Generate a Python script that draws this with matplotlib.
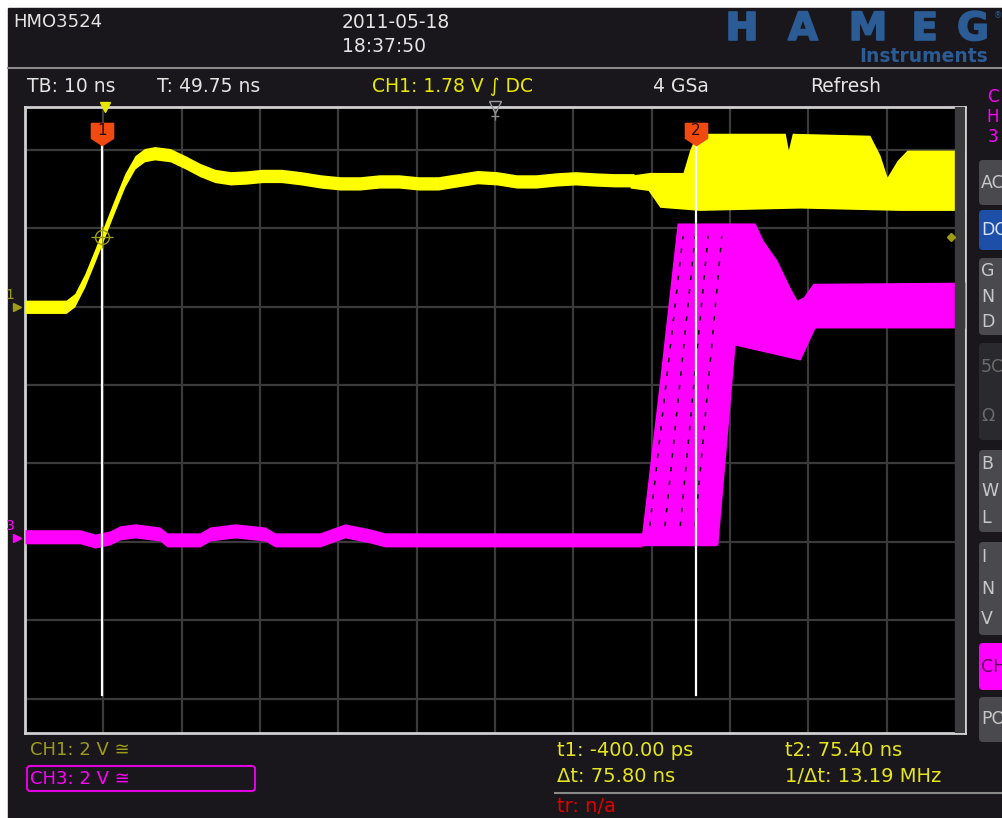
import numpy as np
import matplotlib.pyplot as plt
import matplotlib.patheffects as pe
from matplotlib.patches import Rectangle, FancyBboxPatch
from matplotlib.transforms import blended_transform_factory

plt.rcParams['font.family'] = ['DejaVu Sans']

W, H = 1003, 818

# time axis in ns: 10 ns/div, 12 div, centre at 49.75 ns
t_left, t_right = -10.25, 109.75
# vertical axis in divisions (grid lines on integers)
div_bottom, div_top = -4.44, 3.55
v_per_div = 2.0
ch1_off = 1.0
ch3_off = -1.95
trig_level = 1.78

# CH1 single trace (ns, V), centre of the band
ch1_t = [-10.25, -5.0, -3.9, -2.6, -1.3, -0.2, 1.2, 2.5, 3.8, 5.0, 6.3, 8.3, 10.2,
         12.1, 14.0, 16.0, 18.0, 20.0, 22.5, 25.0, 27.5, 30.0, 32.5, 35.0, 37.5,
         40.0, 42.5, 45.0, 47.5, 50.0, 52.5, 55.0, 57.5, 60.0, 62.5, 65.0, 67.5]
ch1_v = [0.0, 0.0, 0.17, 0.68, 1.32, 1.88, 2.59, 3.23, 3.69, 3.87, 3.92, 3.87, 3.69,
         3.49, 3.34, 3.28, 3.30, 3.34, 3.34, 3.28, 3.20, 3.15, 3.15, 3.20, 3.20,
         3.15, 3.15, 3.23, 3.31, 3.28, 3.20, 3.20, 3.25, 3.28, 3.25, 3.23, 3.23]
ch1_band = 0.17

# CH1 persistence envelope (ns, V)
ch1p_t = [67.0, 69.5, 73.75, 74.6, 75.5, 86.8, 87.2, 87.7, 97.6, 98.9, 99.8, 101.1, 102.35, 109.75]
ch1p_hi = [3.36, 3.43, 3.43, 4.0, 4.43, 4.43, 4.0, 4.43, 4.38, 3.87, 3.31, 3.74, 4.0, 4.0]
ch1p_lo_t = [67.0, 69.3, 70.8, 75.9, 88.7, 101.5, 109.75]
ch1p_lo = [3.03, 2.97, 2.54, 2.46, 2.52, 2.46, 2.46]

# CH3 single trace (ns, V)
ch3_t = [-10.25, -3.23, -1.31, 0.6, 1.88, 3.79, 6.98, 7.88, 12.09, 13.37, 16.56, 20.39,
         21.67, 24.86, 27.41, 30.6, 33.8, 35.7, 42.7, 50.4, 68.5]
ch3_v = [0.03, 0.03, -0.08, 0.0, 0.13, 0.18, 0.10, -0.05, -0.05, 0.10, 0.18, 0.10,
         -0.05, -0.05, -0.05, 0.18, 0.05, -0.05, -0.05, -0.05, -0.05]
ch3_band = 0.18

# CH3 persistence envelope (ns, V)
ch3p_hi_t = [68.3, 68.5, 70.8, 73.0, 82.95, 83.97, 85.75, 87.4, 88.3, 89.1, 90.35, 109.75]
ch3p_hi = [0.1, 0.15, 4.1, 8.04, 8.04, 7.6, 7.09, 6.4, 6.07, 6.15, 6.5, 6.53]
ch3p_lo_t = [68.3, 77.8, 78.2, 80.4, 88.7, 90.6, 109.75]
ch3p_lo = [-0.2, -0.2, -0.18, 4.92, 4.54, 5.36, 5.36]

# darker single edges seen inside the CH3 persistence cloud (ns at 0 V, ns at 8 V)
edge_t0 = [69.5, 71.45, 73.4, 75.3]
edge_t1 = [73.75, 75.3, 76.95, 78.7]

# cursors (ns)
cursor_t = [-0.4, 75.4]
cursor_lbl = ['1', '2']

fig = plt.figure(figsize=(W / 100, H / 100), dpi=100)
fig.patch.set_facecolor('white')

# background axes in pixel coordinates
bg = fig.add_axes([0, 0, 1, 1])
bg.set_xlim(0, W)
bg.set_ylim(H, 0)
bg.axis('off')
bg.add_patch(Rectangle((8, 8), W - 8, H - 8, color='#19171b', zorder=0))
bg.plot([8, W], [68, 68], color='#8a8a8a', lw=1.5)
bg.plot([555, W], [793, 793], color='#8a8a8a', lw=1.5)

# header
white = '#e4e4e4'
bg.text(13, 22, 'HMO3524', color=white, fontsize=13, va='center')
bg.text(342, 22, '2011-05-18', color=white, fontsize=13.5, va='center')
bg.text(342, 47, '18:37:50', color=white, fontsize=13.5, va='center')
logo = '#2b5c95'
for xc, ch in zip([742, 803, 868, 925, 973], 'HAMEG'):
    bg.text(xc, 29, ch, color=logo, fontsize=28, fontweight='heavy', ha='center', va='center',
            path_effects=[pe.withStroke(linewidth=1.2, foreground=logo)])
bg.text(998, 16, '®', color=logo, fontsize=6, ha='center', va='center')
bg.text(988, 57, 'Instruments', color=logo, fontsize=13.5, fontweight='bold', ha='right', va='center')

bg.text(27, 87, 'TB: 10 ns', color=white, fontsize=13.5, va='center')
bg.text(157, 87, 'T: 49.75 ns', color=white, fontsize=13.5, va='center')
bg.text(372, 87, 'CH1: 1.78 V ∫ DC', color='#e8e800', fontsize=13.5, va='center')
bg.text(653, 87, '4 GSa', color=white, fontsize=13.5, va='center')
bg.text(810, 87, 'Refresh', color=white, fontsize=13.5, va='center')

# right side buttons
for i, ch in enumerate('CH3'):
    bg.text(993, 97 + i * 20, ch, color='#ff00ff', fontsize=12, ha='center', va='center')
btn_gray = '#4a494e'
buttons = [(160, 205, btn_gray, ['AC'], '#c8c8c8'),
           (210, 250, '#1d4ea8', ['DC'], '#d8e4ff'),
           (258, 335, btn_gray, ['G', 'N', 'D'], '#c8c8c8'),
           (343, 440, '#2a292d', ['5C', 'Ω'], '#6a6a6a'),
           (450, 532, btn_gray, ['B', 'W', 'L'], '#c8c8c8'),
           (542, 635, btn_gray, ['I', 'N', 'V'], '#c8c8c8'),
           (643, 690, '#ff00ff', ['CH'], '#5a005a'),
           (697, 742, btn_gray, ['PO'], '#c8c8c8')]
for y0, y1, fc, lbls, tc in buttons:
    bg.add_patch(FancyBboxPatch((979, y0), 40, y1 - y0, boxstyle='round,pad=0,rounding_size=4',
                                fc=fc, ec='none', zorder=1))
    n = len(lbls)
    for k, s in enumerate(lbls):
        yc = y0 + (y1 - y0) * (k + 0.5) / n
        bg.text(981, yc, s, color=tc, fontsize=12.5, va='center', ha='left', zorder=2, clip_on=True)

# bottom status
bg.text(30, 750, 'CH1: 2 V ≅', color='#9e9c16', fontsize=13, va='center')
bg.add_patch(FancyBboxPatch((27, 766), 228, 25, boxstyle='round,pad=0,rounding_size=3',
                            fc='none', ec='#e000e0', lw=1.5))
bg.text(30, 779, 'CH3: 2 V ≅', color='#ff00ff', fontsize=13, va='center')
yel = '#e6e61c'
bg.text(557, 750, 't1: -400.00 ps', color=yel, fontsize=14, va='center')
bg.text(785, 750, 't2: 75.40 ns', color=yel, fontsize=14, va='center')
bg.text(557, 777, 'Δt: 75.80 ns', color=yel, fontsize=14, va='center')
bg.text(785, 777, '1/Δt: 13.19 MHz', color=yel, fontsize=14, va='center')
bg.text(557, 807, 'tr: n/a', color='#e00000', fontsize=14, va='center')

# scrollbar arrows
bg.plot(958, 224, marker='^', color='#d8d8d8', ms=7, zorder=9)
bg.plot(958, 456, marker='v', color='#d8d8d8', ms=7, zorder=9)

# scope graticule
ax = fig.add_axes([25 / W, 1 - 733 / H, 940 / W, 626 / H])
ax.set_facecolor('black')
ax.set_xlim(t_left, t_right)
ax.set_ylim(div_bottom, div_top)
ax.set_xticks([])
ax.set_yticks([])
for s in ax.spines.values():
    s.set_color('#d0d0d0')
    s.set_linewidth(2)
for k in range(11):
    ax.axvline(-0.25 + 10 * k, color='#3a3a3a', lw=1.6, zorder=1)
for k in range(-4, 4):
    ax.axhline(k, color='#3a3a3a', lw=1.6, zorder=1)

# scrollbar strip on the right of the graticule
ax.axvspan(108.5, t_right, color='#3a3a3c', zorder=5)


def d1(v):
    return np.asarray(v) / v_per_div + ch1_off


def d3(v):
    return np.asarray(v) / v_per_div + ch3_off


# CH3 traces
ax.fill_between(ch3_t, d3(np.array(ch3_v) - ch3_band), d3(np.array(ch3_v) + ch3_band),
                color='#ff00ff', lw=0, zorder=3)
tt = np.union1d(ch3p_hi_t, ch3p_lo_t)
ax.fill_between(tt, d3(np.interp(tt, ch3p_lo_t, ch3p_lo)), d3(np.interp(tt, ch3p_hi_t, ch3p_hi)),
                color='#ff00ff', lw=0, zorder=3)
for a, b in zip(edge_t0, edge_t1):
    ax.plot([a, b], d3([0.3, 7.7]), color='black', lw=1.1, ls=(0, (3, 6)), zorder=3.5)

# CH1 traces
ax.fill_between(ch1_t, d1(np.array(ch1_v) - ch1_band), d1(np.array(ch1_v) + ch1_band),
                color='#ffff00', lw=0, zorder=4)
tt = np.union1d(ch1p_t, ch1p_lo_t)
ax.fill_between(tt, d1(np.interp(tt, ch1p_lo_t, ch1p_lo)), d1(np.interp(tt, ch1p_t, ch1p_hi)),
                color='#ffff00', lw=0, zorder=4)

# markers along the edges of the graticule
top = blended_transform_factory(ax.transData, ax.transAxes)
left = blended_transform_factory(ax.transAxes, ax.transData)
ax.plot(0, 1.0, marker='v', color='#e8e800', ms=7, transform=top, clip_on=False, zorder=9)
ax.plot((t_left + t_right) / 2, 1.0, marker='v', mfc='none', mec='#9a9a9a', ms=9,
        transform=top, clip_on=False, zorder=9)
ax.plot((t_left + t_right) / 2, 0.985, marker='+', color='#8a8a8a', ms=6, transform=top, zorder=9)
ax.plot(-0.008, d1(0), marker='>', color='#9e9c16', ms=6, transform=left, clip_on=False, zorder=9)
ax.text(-0.016, d1(0) + 0.06, '1', color='#9e9c16', fontsize=10, ha='center', va='bottom',
        transform=left, clip_on=False)
ax.plot(-0.008, d3(0), marker='>', color='#ff00ff', ms=6, transform=left, clip_on=False, zorder=9)
ax.text(-0.016, d3(0) + 0.06, '3', color='#ff00ff', fontsize=10, ha='center', va='bottom',
        transform=left, clip_on=False)
ax.plot(0.985, d1(trig_level), marker='D', color='#9e9c16', ms=4, transform=left, zorder=9)

# cursors
tag = [(-1, 1), (1, 1), (1, -0.35), (0, -1), (-1, -0.35), (-1, 1)]
for t, lbl in zip(cursor_t, cursor_lbl):
    ax.plot([t, t], [3.06, -3.95], color='white', lw=1.6, zorder=6)
    ax.plot(t, 3.21, marker=tag, color='#f04a10', ms=16, zorder=8)
    ax.text(t, 3.25, lbl, color='#2a0a00', fontsize=11, ha='center', va='center', zorder=9)
ax.plot(cursor_t[0], d1(trig_level), marker='o', mfc='none', mec='#9e9c16', ms=10, zorder=9)
ax.plot(cursor_t[0], d1(trig_level), marker='+', color='#9e9c16', ms=16, zorder=9)

fig.savefig('out.png', dpi=100, facecolor=fig.get_facecolor())
